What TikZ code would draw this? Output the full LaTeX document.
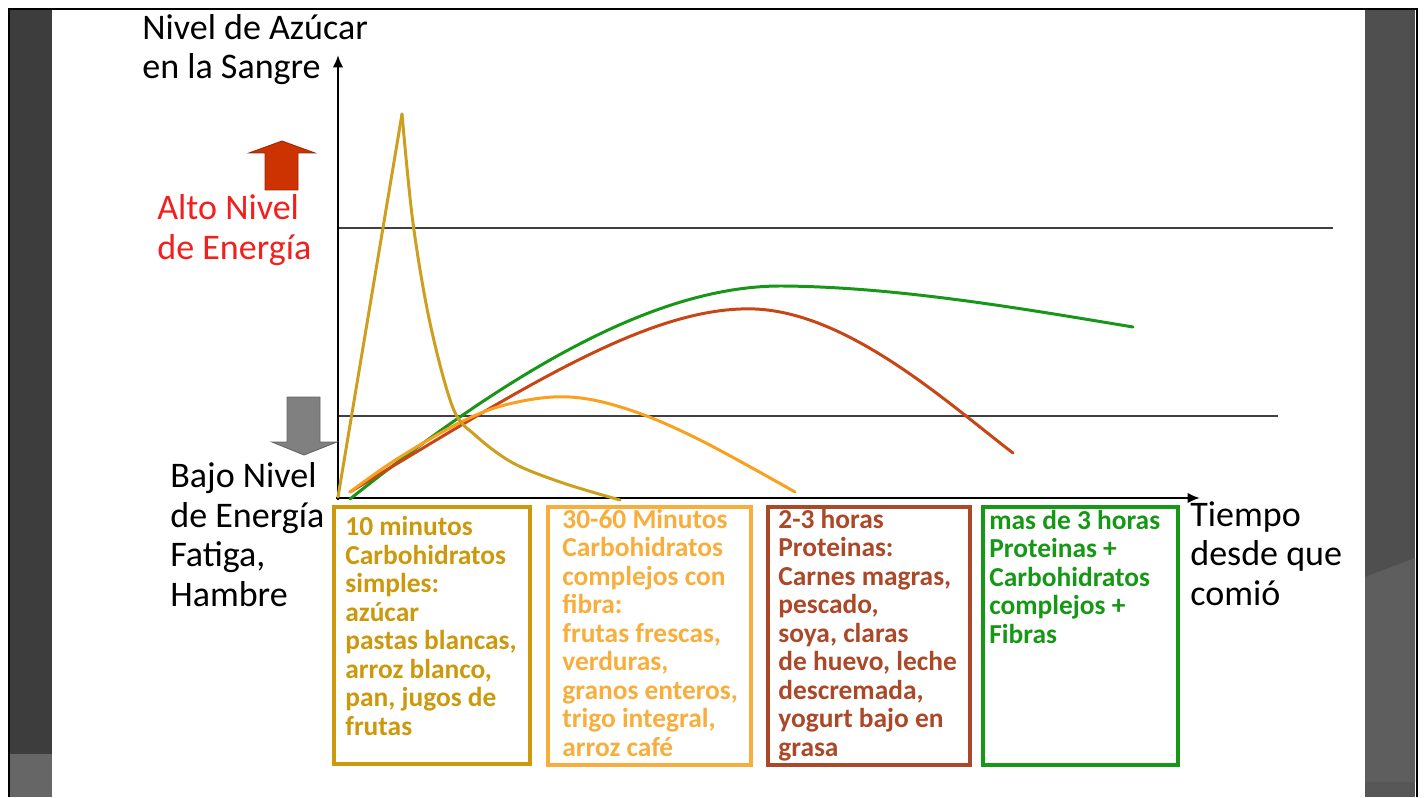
\documentclass[tikz,border=0pt]{standalone}
\usepackage{fontspec}
\setmainfont{Carlito}
\usetikzlibrary{arrows.meta}

\definecolor{simple}{RGB}{204,152,12}
\definecolor{complejo}{RGB}{248,174,60}
\definecolor{proteina}{RGB}{170,72,40}
\definecolor{mixto}{RGB}{22,152,22}
\definecolor{simplecurve}{RGB}{204,160,30}
\definecolor{complejocurve}{RGB}{250,160,30}
\definecolor{proteinacurve}{RGB}{200,70,22}
\definecolor{mixtocurve}{RGB}{24,150,24}
\definecolor{alto}{RGB}{240,32,32}

% multi-line nodes: base anchor is the last line
\tikzset{
  biglabel/.style={align=left, inner sep=0pt, anchor=base west,
    font=\fontsize{20.5}{22.4}\selectfont},
  boxline/.style={draw=#1, line width=2.4pt},
  boxtext/.style={text=#1, align=left, inner sep=0pt, anchor=base west,
    font=\bfseries\fontsize{15.6}{16.2}\selectfont},
  curve/.style={draw=#1, line width=1.7pt, line cap=round, line join=round},
  level/.style={draw=black!75, line width=0.7pt}
}

\begin{document}
\begin{tikzpicture}[x=0.02cm, y=-0.02cm]

    % page and slide frame
    \useasboundingbox (0,0) rectangle (1425,797);
    \fill[white] (0,0) rectangle (1425,797);
    \fill[black!76] (10,10) rectangle (52,754);
    \fill[black!60] (10,754) rectangle (52,797);
    \fill[black!69] (1365,10) rectangle (1415,797);
    \fill[black!63] (1365,577) -- (1415,558) -- (1415,782) -- (1365,782) -- cycle;
    \fill[black!66] (1365,782) rectangle (1415,797);
    \draw[line width=1.4pt] (9,797) -- (9,9) -- (1417,9) -- (1417,797);

    % axes
    \coordinate (O) at (338,498);
    \coordinate (ytop) at (338,55);
    \coordinate (xend) at (1200,498);
    \draw[level] (338,228) -- (1333,228);
    \draw[level] (338,416) -- (1278,416);
    \draw[line width=1.6pt, -{Latex[length=7pt,width=6pt]}] (338,500) -- (ytop);
    \draw[line width=1.6pt, -{Latex[length=7pt,width=6pt]}] (336,498) -- (xend);

    % curves
    \draw[curve=mixtocurve] (350,499) .. controls (500,380) and (650,285) .. (783,286)
      .. controls (900,287) and (1030,310) .. (1133,327);
    \draw[curve=proteinacurve] (350,492) .. controls (520,390) and (650,305) .. (755,309)
      .. controls (850,313) and (950,405) .. (1013,453);
    \draw[curve=complejocurve] plot[smooth, tension=0.6] coordinates {(350,492) (397,459) (463,421) (513,403) (570,397) (630,410) (700,440) (795,492)};
    \draw[curve=simplecurve] (338,497) -- (402,114);
    \draw[curve=simplecurve] plot[smooth, tension=0.55] coordinates {(402,114) (413,223) (430,323) (453,408) (475,435) (513,463) (563,483) (620,500)};

    % energy arrows
    \filldraw[fill={rgb,255:red,204;green,51;blue,0}, draw={rgb,255:red,150;green,40;blue,10}, line width=0.5pt]
      (265,190) -- (265,153) -- (249,153) -- (282,141) -- (315,153) -- (298,153) -- (298,190) -- cycle;
    \filldraw[fill=black!50, draw=black!60, line width=0.5pt]
      (287,397) -- (320,397) -- (320,442) -- (337,442) -- (304,455) -- (272,442) -- (287,442) -- cycle;

    % labels
    \node[biglabel] (yaxis) at (142,79) {Nivel de Azúcar\\en la Sangre};
    \node[biglabel, text=alto] (alto) at (157,259) {Alto Nivel\\de Energía};
    \node[biglabel] (bajo) at (170,606) {Bajo Nivel\\de Energía\\Fatiga,\\Hambre};
    \node[biglabel] (xaxis) at (1190,605) {Tiempo\\desde que\\comió};

    % food boxes
    \draw[boxline=simple] (334,507) rectangle (530,764);
    \node[boxtext=simple] (diez) at (345,735) {10 minutos\\Carbohidratos\\simples:\\azúcar\\pastas blancas,\\arroz blanco,\\pan, jugos de\\frutas};

    \draw[boxline=complejo] (548,507) rectangle (751,765);
    \node[boxtext=complejo] (treinta) at (562,756) {30-60 Minutos\\Carbohidratos\\complejos con\\fibra:\\frutas frescas,\\verduras,\\granos enteros,\\trigo integral,\\arroz café};

    \draw[boxline=proteina] (768,507) rectangle (970,765);
    \node[boxtext=proteina] (dos) at (778,756) {2-3 horas\\Proteinas:\\Carnes magras,\\pescado,\\soya, claras\\de huevo, leche\\descremada,\\yogurt bajo en\\grasa};

    \draw[boxline=mixto] (983,507) rectangle (1178,765);
    \node[boxtext=mixto] (tres) at (989,643) {mas de 3 horas\\Proteinas +\\Carbohidratos\\complejos +\\Fibras};

\end{tikzpicture}
\end{document}
